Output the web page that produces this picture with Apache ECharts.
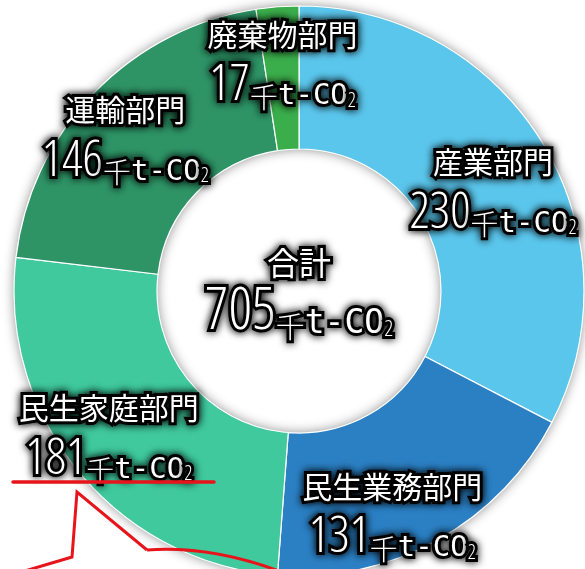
<!DOCTYPE html>
<html><head><meta charset="utf-8">
<script src="https://cdn.jsdelivr.net/npm/echarts@6/dist/echarts.min.js"></script>
<style>html,body{margin:0;padding:0;background:#fff}#c{width:585px;height:569px}</style>
</head><body><div id="c"></div>
<script>
// ---- data ----
const sectors = ['産業部門', '民生業務部門', '民生家庭部門', '運輸部門', '廃棄物部門'];
const emissions = [230, 131, 181, 146, 17];
const unitKanji = '千';
const unitText = 't-CO';
const unitSub = '2';
const totalLabel = '合計';

// ---- styles / layout ----
const colors = ['#5BC6EC', '#2B80C4', '#3FC99C', '#2E9466', '#3BAE4C'];
const labelNudge = [[9, 11], [-12, 34], [-23, 7], [-18, -3], [0, -13]];
const CENTER = [299, 291];
const RADIUS = [142, 285];

const NARROW = "'Open Sans', 'Noto Sans CJK JP', sans-serif";
const MONO = "'DejaVu Sans Mono', monospace";
const CJK = "'Noto Sans CJK JP', sans-serif";
const outline = { color: '#fff', textBorderColor: '#000', textBorderWidth: 6, textShadowColor: '#000', textShadowBlur: 9 };
function rich(nameSize, numSize, kSize, uSize, sSize) {
  return {
    a: Object.assign({ fontFamily: CJK, fontSize: nameSize, lineHeight: nameSize + 12, verticalAlign: 'middle' }, outline),
    n: Object.assign({ fontFamily: NARROW, fontStyle: 'condensed', fontWeight: 300, fontSize: numSize, lineHeight: 50, verticalAlign: 'bottom' }, outline),
    k: Object.assign({ fontFamily: CJK, fontWeight: 300, fontSize: kSize, lineHeight: 56, verticalAlign: 'bottom' }, outline),
    u: Object.assign({ fontFamily: MONO, fontSize: uSize, lineHeight: uSize + 10, verticalAlign: 'bottom' }, outline),
    s: Object.assign({ fontFamily: NARROW, fontStyle: 'condensed', fontWeight: 300, fontSize: sSize, lineHeight: 33, verticalAlign: 'bottom' }, outline)
  };
}
function labelText(name, val) {
  return '{a|' + name + '}\n{n|' + val + '}{k|' + unitKanji + '}{u|' + unitText + '}{s|' + unitSub + '}';
}
const total = emissions.reduce((s, v) => s + v, 0);

const chart = echarts.init(document.getElementById('c'), null, { renderer: 'canvas' });
chart.setOption({
  animation: false,
  series: [
    {
      type: 'pie', silent: true, center: CENTER, radius: RADIUS, z: 1,
      data: [{ value: 1, name: totalLabel }],
      itemStyle: { color: '#fff', shadowBlur: 12, shadowColor: 'rgba(0,0,0,0.45)' },
      label: { show: true, position: 'center', formatter: () => labelText(totalLabel, total), rich: rich(32, 58, 29, 33, 22) },
      labelLine: { show: false }, emphasis: { disabled: true }
    },
    {
      type: 'pie', center: CENTER, radius: RADIUS, startAngle: 90, clockwise: true, z: 2,
      data: sectors.map((n, i) => ({ name: n, value: emissions[i], itemStyle: { color: colors[i] } })),
      itemStyle: { borderColor: '#fff', borderWidth: 1.2 },
      label: { show: true, position: 'inside', formatter: p => labelText(p.name, p.value), rich: rich(30, 50, 28, 29, 20) },
      labelLine: { show: false },
      labelLayout: function (params) {
        const d = labelNudge[params.dataIndex] || [0, 0];
        return { dx: d[0], dy: d[1] };
      },
      emphasis: { disabled: true }
    }
  ],
  graphic: [
    { type: 'line', z: 100, shape: { x1: 13, y1: 482, x2: 214, y2: 482 }, style: { stroke: '#E8141B', lineWidth: 3.5, lineCap: 'round' } },
    { type: 'polyline', z: 100, shape: { points: [[18, 573], [72, 557], [77, 492], [147, 550]] }, style: { stroke: '#E8141B', lineWidth: 3, fill: null } },
    { type: 'bezierCurve', z: 100, shape: { x1: 147, y1: 550, x2: 292, y2: 576, cpx1: 215, cpy1: 545 }, style: { stroke: '#E8141B', lineWidth: 3, fill: null } }
  ]
});
</script></body></html>
